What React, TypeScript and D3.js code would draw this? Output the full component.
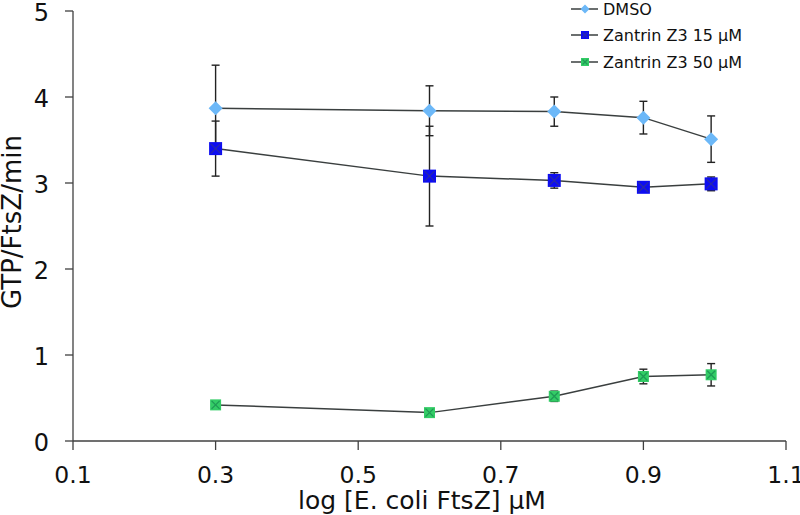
import React from "react";
import * as d3 from "d3";

const xValues = [0.3, 0.6, 0.775, 0.9, 0.995];
const dmso = [3.87, 3.84, 3.83, 3.76, 3.51];
const dmsoErr = [0.5, 0.29, 0.17, 0.19, 0.27];
const z15 = [3.4, 3.08, 3.03, 2.95, 2.99];
const z15Err = [0.32, 0.58, 0.09, 0.03, 0.08];
const z50 = [0.42, 0.33, 0.52, 0.75, 0.77];
const z50Err = [0.02, 0.02, 0.06, 0.085, 0.13];
const xTicks = [0.1, 0.3, 0.5, 0.7, 0.9, 1.1];
const yTicks = [0, 1, 2, 3, 4, 5];
const seriesNames = ["DMSO", "Zantrin Z3 15 µM", "Zantrin Z3 50 µM"];

const W = 800, H = 515;
const x = d3.scaleLinear().domain([0.1, 1.1]).range([73, 786]);
const y = d3.scaleLinear().domain([0, 5]).range([441, 11]);
const FONT = "'DejaVu Sans', Verdana, sans-serif";

type Kind = "diamond" | "squareBlue" | "squareGreen";

function Marker({ cx, cy, kind, s }: { cx: number; cy: number; kind: Kind; s: number }) {
  if (kind === "diamond") {
    const r = s / 2;
    return <path d={`M${cx},${cy - r}L${cx + r},${cy}L${cx},${cy + r}L${cx - r},${cy}Z`} fill="#6cb8f8" />;
  }
  const fill = kind === "squareBlue" ? "#0d0df2" : "#33cc66";
  const xcol = kind === "squareBlue" ? "#2a2aa8" : "#1f9a55";
  const h = s / 2;
  return (
    <g>
      <rect x={cx - h} y={cy - h} width={s} height={s} fill={fill} />
      <path d={`M${cx - h + 1.5},${cy - h + 1.5}L${cx + h - 1.5},${cy + h - 1.5}M${cx + h - 1.5},${cy - h + 1.5}L${cx - h + 1.5},${cy + h - 1.5}`} stroke={xcol} strokeWidth={1.3} />
    </g>
  );
}

const series: { vals: number[]; err: number[]; kind: Kind; size: number }[] = [
  { vals: z50, err: z50Err, kind: "squareGreen", size: 11 },
  { vals: z15, err: z15Err, kind: "squareBlue", size: 13 },
  { vals: dmso, err: dmsoErr, kind: "diamond", size: 14 },
];

export default function App() {
  const line = d3.line<number>().x((_, i) => x(xValues[i])).y((d) => y(d));
  const legendKinds: Kind[] = ["diamond", "squareBlue", "squareGreen"];
  const legendY = [9, 35, 62];
  return (
    <svg width={W} height={H} style={{ position: "absolute", left: 0, top: 0, background: "#fff" }} fontFamily={FONT}>
      {/* axes */}
      <line x1={73} x2={786} y1={441} y2={441} stroke="#404040" strokeWidth={1.3} />
      <line x1={73} x2={73} y1={11} y2={441} stroke="#404040" strokeWidth={1.3} />
      {yTicks.map((t) => (
        <g key={"y" + t}>
          <line x1={65} x2={73} y1={y(t)} y2={y(t)} stroke="#404040" strokeWidth={1.3} />
          <text x={49} y={y(t) + 1.5} dy="0.36em" textAnchor="end" fontSize={24} fill="#111">{t}</text>
        </g>
      ))}
      {xTicks.map((t) => (
        <g key={"x" + t}>
          <line x1={x(t)} x2={x(t)} y1={441} y2={450} stroke="#404040" strokeWidth={1.3} />
          <text x={x(t)} y={483} textAnchor="middle" fontSize={23.5} fill="#111">{t}</text>
        </g>
      ))}
      <text x={422} y={509} textAnchor="middle" fontSize={25} fill="#111">log [E. coli FtsZ] µM</text>
      <text transform={`translate(12,222) rotate(-90)`} dy="0.36em" textAnchor="middle" fontSize={26} fill="#111">GTP/FtsZ/min</text>

      {/* error bars */}
      {series.map((s, si) => (
        <g key={"e" + si}>
          {s.vals.map((v, i) => (
            <g key={i} stroke="#222" strokeWidth={1.4}>
              <line x1={x(xValues[i])} x2={x(xValues[i])} y1={y(v - s.err[i])} y2={y(v + s.err[i])} />
              <line x1={x(xValues[i]) - 4} x2={x(xValues[i]) + 4} y1={y(v - s.err[i])} y2={y(v - s.err[i])} />
              <line x1={x(xValues[i]) - 4} x2={x(xValues[i]) + 4} y1={y(v + s.err[i])} y2={y(v + s.err[i])} />
            </g>
          ))}
        </g>
      ))}
      {/* lines + markers */}
      {series.map((s, si) => (
        <g key={"s" + si}>
          <path d={line(s.vals) || ""} fill="none" stroke="#3a3f3f" strokeWidth={1.5} />
          {s.vals.map((v, i) => (
            <Marker key={i} cx={x(xValues[i])} cy={y(v)} kind={s.kind} s={s.size} />
          ))}
        </g>
      ))}

      {/* legend */}
      {seriesNames.map((n, i) => (
        <g key={n}>
          <line x1={571} x2={598} y1={legendY[i]} y2={legendY[i]} stroke="#3a3f3f" strokeWidth={1.5} />
          <Marker cx={585} cy={legendY[i]} kind={legendKinds[i]} s={legendKinds[i] === "diamond" ? 9 : 8} />
          <text x={603} y={legendY[i]} dy="0.36em" fontSize={16} fill="#111">{n}</text>
        </g>
      ))}
    </svg>
  );
}
